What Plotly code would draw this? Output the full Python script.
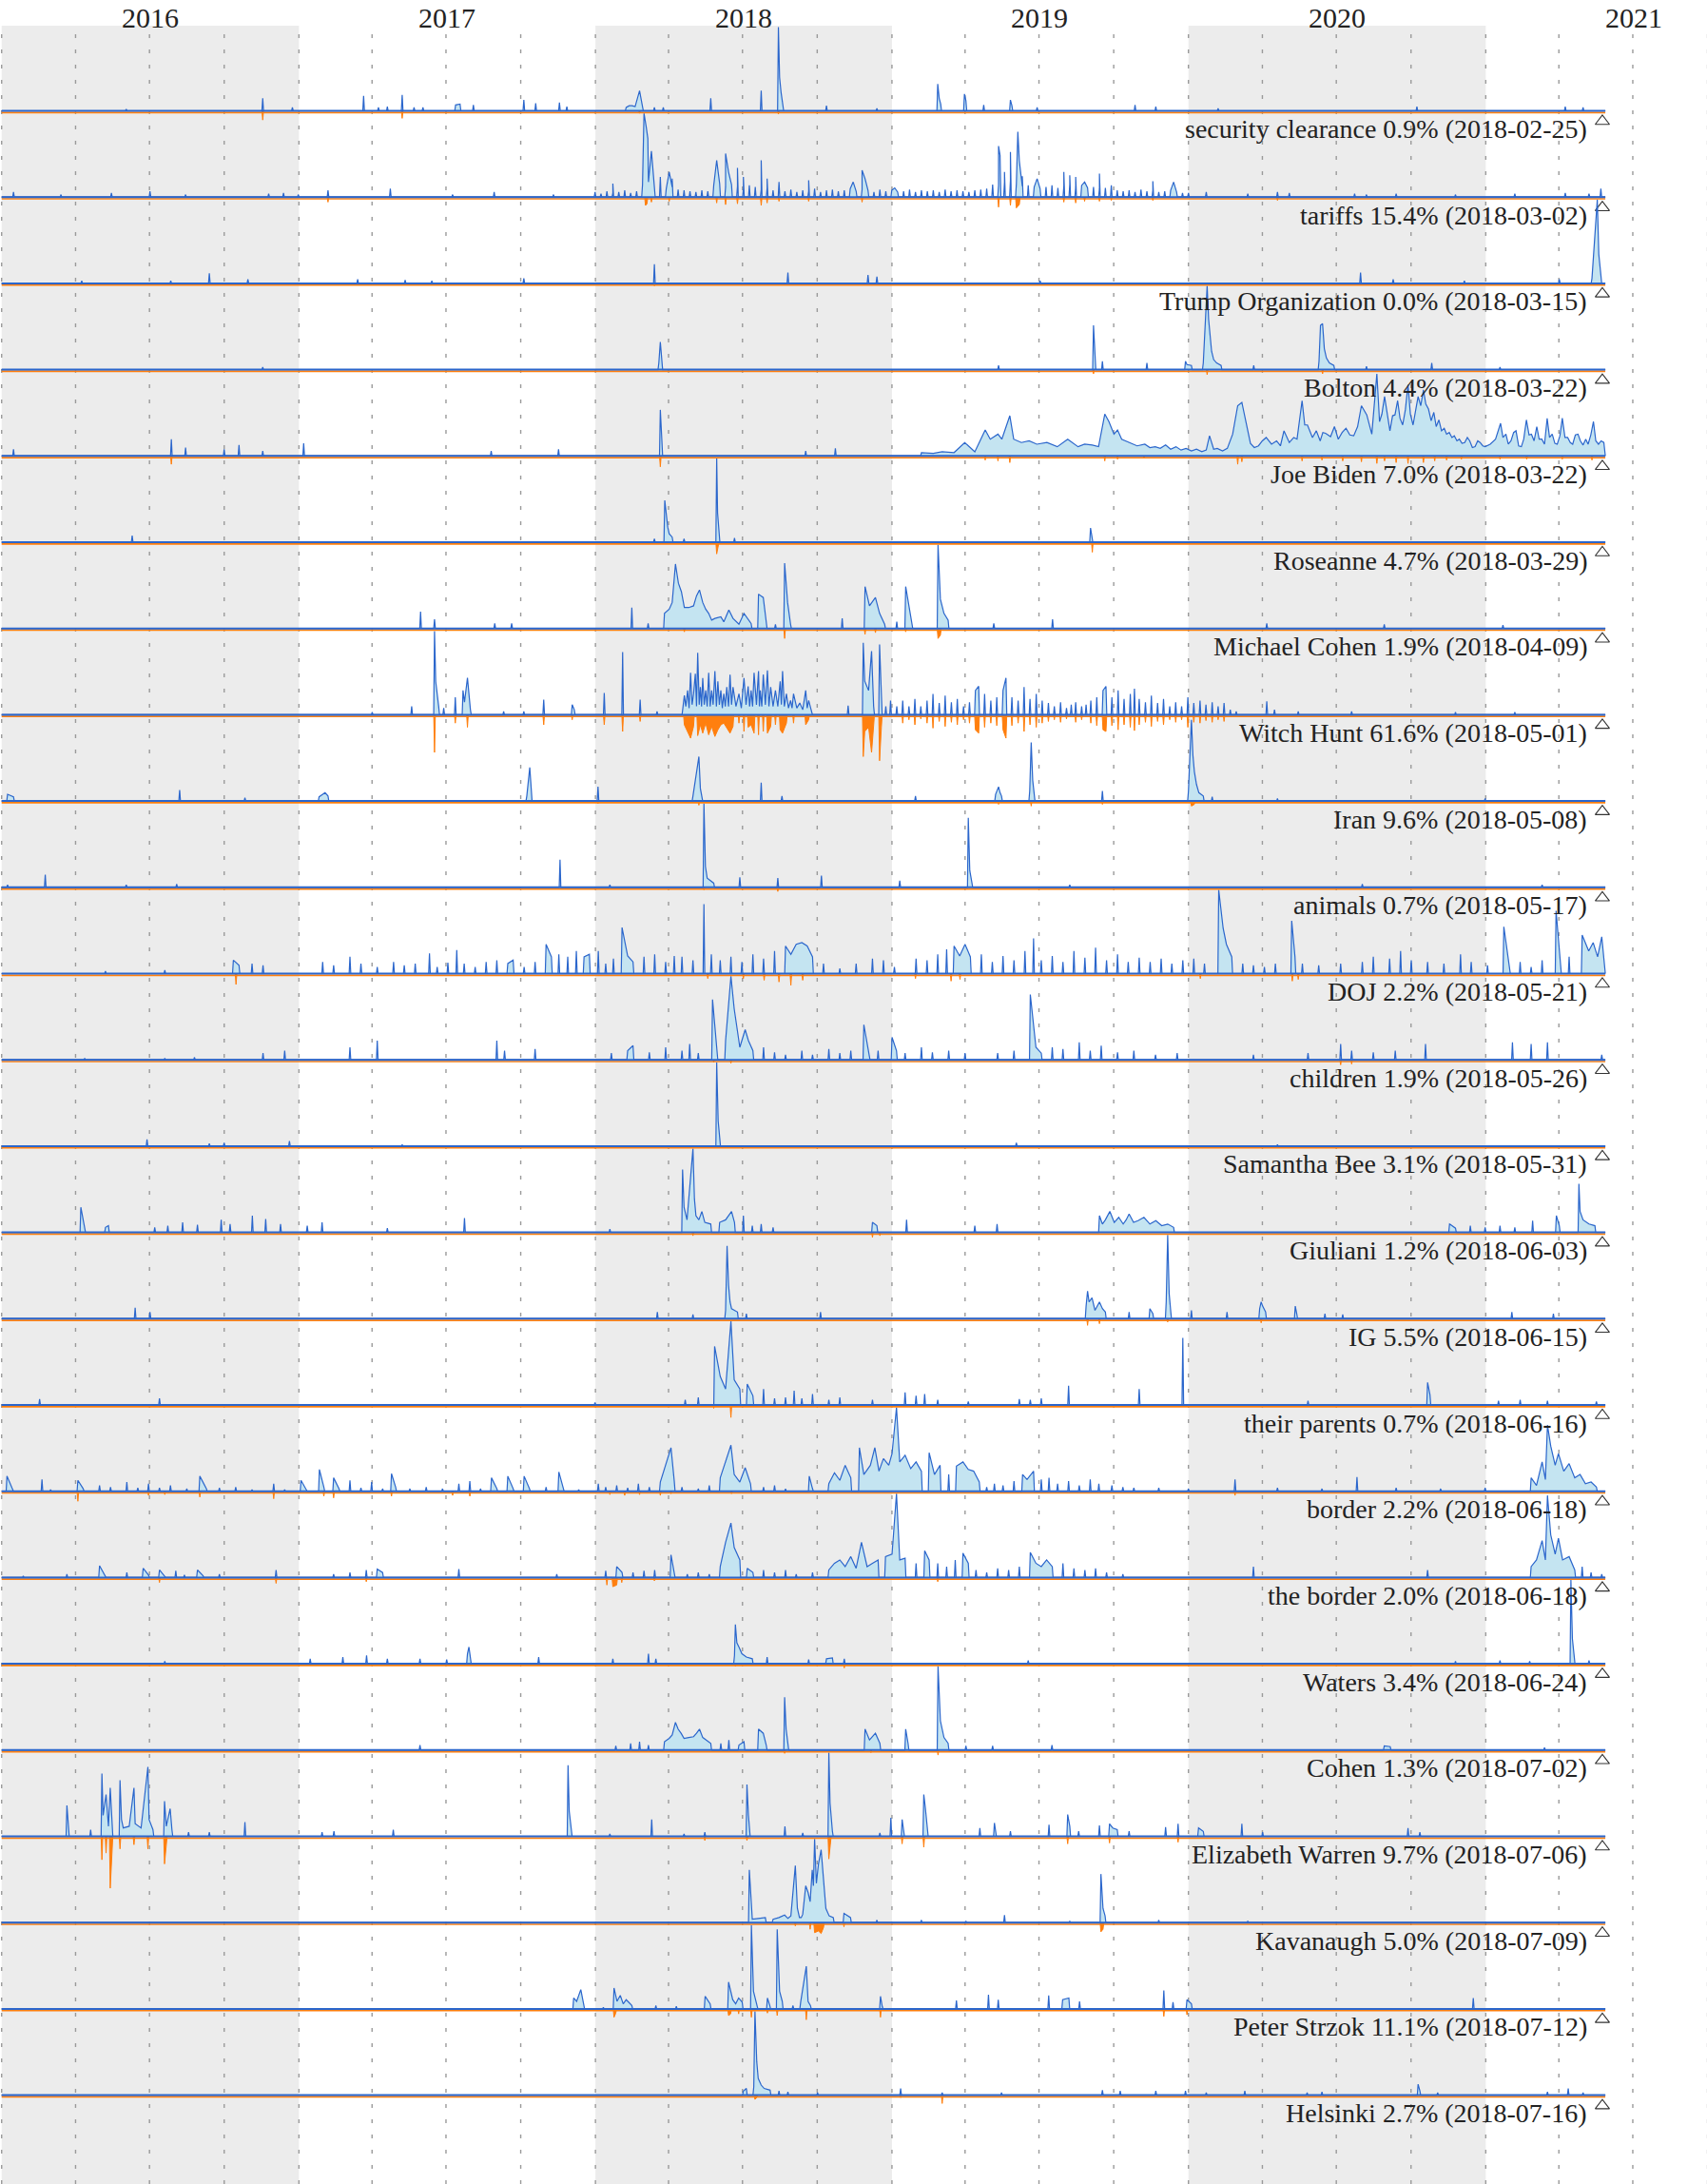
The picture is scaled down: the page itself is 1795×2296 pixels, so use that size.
import pandas as pd
import plotly.graph_objects as go

# ---------------- data (x = fractional year, value = share of row peak, 0-100) ----------------
terms = ["security clearance", "tariffs", "Trump Organization", "Bolton", "Joe Biden", "Roseanne",
         "Michael Cohen", "Witch Hunt", "Iran", "animals", "DOJ", "children", "Samantha Bee",
         "Giuliani", "IG", "their parents", "border", "the border", "Waters", "Cohen",
         "Elizabeth Warren", "Kavanaugh", "Peter Strzok", "Helsinki"]
shares = [0.9, 15.4, 0.0, 4.4, 7.0, 4.7, 1.9, 61.6, 9.6, 0.7, 2.2, 1.9, 3.1, 1.2, 5.5, 0.7, 2.2,
          2.0, 3.4, 1.3, 9.7, 5.0, 11.1, 2.7]
first_dates = ["2018-02-25", "2018-03-02", "2018-03-15", "2018-03-22", "2018-03-22", "2018-03-29",
               "2018-04-09", "2018-05-01", "2018-05-08", "2018-05-17", "2018-05-21", "2018-05-26",
               "2018-05-31", "2018-06-03", "2018-06-15", "2018-06-16", "2018-06-18", "2018-06-18",
               "2018-06-24", "2018-07-02", "2018-07-06", "2018-07-09", "2018-07-12", "2018-07-16"]
year_labels = [2016, 2017, 2018, 2019, 2020, 2021]

security_clearance_blue = [(2016.42,2),(2016.88,15),(2016.98,4),(2017.22,18),(2017.27,4),(2017.30,5),(2017.35,19),(2017.39,4),(2017.42,4),(2017.53,7),(2017.545,8),(2017.59,7),(2017.76,13),(2017.80,9),(2017.88,10),(2017.905,5),(2018.105,4),(2018.115,6),(2018.125,6),(2018.135,5),(2018.15,24),(2018.155,12),(2018.16,5),(2018.20,4),(2018.23,4),(2018.39,15),(2018.56,24),(2018.618,100),(2018.622,40),(2018.627,22),(2018.633,8),(2018.78,6),(2018.95,3),(2019.155,32),(2019.16,15),(2019.165,8),(2019.245,20),(2019.25,12),(2019.31,7),(2019.40,13),(2019.405,6),(2019.49,4),(2019.82,7),(2019.89,5),(2020.10,3),(2020.77,5),(2021.27,5),(2021.33,4)]
security_clearance_orange = [(2016.88,11),(2017.35,9),(2018.15,3),(2018.618,4)]

tariffs_blue = [(2016.04,6),(2016.20,3),(2016.37,5),(2016.50,7),(2016.62,3),(2016.90,4),(2016.95,5),(2017.00,3),(2017.10,8),(2017.31,10),(2017.52,3),(2017.66,6),(2017.86,3),
                (2018.06,16),(2018.165,100),(2018.172,85),(2018.178,70),(2018.185,40),(2018.19,55),(2018.22,24),(2018.25,30),(2018.26,22),(2018.41,44),(2018.415,30),(2018.44,52),(2018.45,30),(2018.48,35),(2018.50,24),(2018.56,44),(2018.58,22),(2018.62,18),(2018.72,20),(2018.87,18),(2018.90,32),(2018.91,22),(2019.01,11),(2019.36,61),(2019.365,50),(2019.38,30),(2019.40,54),(2019.425,78),(2019.43,43),(2019.44,25),(2019.49,22),(2019.58,30),(2019.60,26),(2019.62,24),(2019.65,18),(2019.70,28),(2019.74,14),(2019.88,19),(2019.95,18),
                (2020.06,6),(2020.20,4),(2020.30,6),(2020.34,5),(2020.56,4),(2020.60,3),(2020.70,4),(2020.90,3),(2021.10,4),(2021.27,5),(2021.35,4),(2021.39,10)]
tariffs_floor = (2018.0, 0.02, [6,4,7,5,6,8,5,7, 15,18,12,14,10,12,9,8, 7,6,8,7, 14,16,12,15,13,10,14,12,9,11,8,10,
                                7,9,6,8,7,10,6,8,9,7,8,10,7,9,8,6,9,7, 8,6,7,9,6,8,7,8,6,9,7,8,7,6,8,9,10,
                                15,14,18,20,16,13,14,12, 10,12,14,11,13,15,12,14,11,12,10,11,9,8, 7,8,6,9,7,8,6,7,8,6,5,5])
tariffs_orange = [(2017.10,6),(2018.17,10),(2018.175,8),(2018.19,6),(2018.25,5),(2018.41,7),(2018.44,9),(2018.48,8),(2018.56,10),(2018.58,7),(2018.62,5),(2018.72,5),(2018.90,6),(2019.36,12),(2019.40,10),(2019.42,13),(2019.43,9),(2019.58,6),(2019.62,7),(2019.65,5),(2019.70,5),(2019.74,4),(2019.88,4),(2020.30,4)]

trump_org_blue = [(2016.27,3),(2016.57,3),(2016.70,12),(2016.83,5),(2017.20,5),(2017.36,4),(2017.45,3),(2017.76,6),(2018.20,23),(2018.65,13),(2018.92,10),(2018.95,8),(2019.50,3),(2020.58,13),(2020.69,5),(2020.93,3),(2021.25,5),(2021.36,6),(2021.378,100),(2021.383,35),(2021.39,10)]
trump_org_orange = [(2018.20,3)]

bolton_blue = [(2016.88,3),(2018.215,8),(2018.22,33),(2018.225,10),(2019.36,5),(2019.68,53),(2019.685,15),(2019.71,10),(2019.86,8),(2019.99,10),(2019.995,6),(2020.01,5),(2020.05,8),(2020.063,100),(2020.068,60),(2020.073,35),(2020.078,22),(2020.085,12),(2020.095,8),(2020.11,5),(2020.22,5),(2020.44,10),(2020.445,53),(2020.452,55),(2020.458,25),(2020.465,14),(2020.475,8),(2020.49,5),(2020.60,4),(2020.82,8),(2021.05,3)]
bolton_orange = [(2019.68,5),(2020.063,6),(2020.452,5)]

joe_biden_blue = [(2016.04,8),(2016.572,20),(2016.62,10),(2016.75,8),(2016.80,13),(2016.88,6),(2017.018,15),(2017.65,6),(2017.877,8),(2018.22,55),(2018.225,20),(2018.71,6),(2018.81,9),(2019.10,4),(2019.14,3),(2019.17,5),(2019.21,4),
                  (2019.246,16),(2019.28,5),(2019.315,31),(2019.332,20),(2019.358,26),(2019.371,20),(2019.398,48),(2019.411,20),(2019.437,16),(2019.463,18),(2019.489,14),(2019.523,16),(2019.558,11),(2019.593,20),(2019.628,11),(2019.650,14),(2019.676,13),(2019.697,11),(2019.718,50),(2019.732,41),(2019.749,26),(2019.761,31),(2019.775,20),(2019.801,16),(2019.827,12),(2019.853,14),(2019.870,10),(2019.888,11),(2019.905,9),(2019.923,13),(2019.940,8),(2019.958,11),(2019.975,7),(2019.992,9),
                  (2020.010,6),(2020.027,8),(2020.045,5),(2020.060,7),(2020.071,24),(2020.085,8),(2020.097,9),(2020.115,6),(2020.131,9),(2020.149,26),(2020.166,60),(2020.180,64),(2020.192,45),(2020.209,15),(2020.222,10),(2020.236,12),(2020.249,18),(2020.262,22),(2020.280,14),(2020.297,18),(2020.310,12),(2020.322,30),(2020.340,16),(2020.355,22),(2020.366,20),(2020.383,66),(2020.392,37),(2020.401,37),(2020.418,22),(2020.431,30),(2020.444,18),(2020.453,28),(2020.462,27),(2020.479,23),(2020.492,35),(2020.505,20),(2020.518,28),(2020.531,33),(2020.544,25),(2020.557,24),(2020.570,35),(2020.583,60),(2020.601,49),(2020.618,26),(2020.635,98),(2020.644,41),(2020.652,50),(2020.661,71),(2020.679,30),(2020.688,48),(2020.696,49),(2020.705,66),(2020.713,45),(2020.722,37),(2020.731,55),(2020.740,85),(2020.748,50),(2020.757,37),(2020.766,55),(2020.774,71),(2020.783,60),(2020.792,79),(2020.800,62),(2020.809,56),(2020.818,42),(2020.827,52),(2020.835,35),(2020.844,43),(2020.853,30),(2020.862,33),(2020.870,26),(2020.879,28),(2020.888,22),(2020.896,24),(2020.905,18),(2020.913,20),(2020.922,15),(2020.931,16),(2020.940,22),(2020.948,18),(2020.957,10),(2020.966,11),(2020.975,18),(2020.983,16),(2020.992,12),
                  (2021.000,11),(2021.017,14),(2021.035,20),(2021.052,39),(2021.060,22),(2021.070,26),(2021.078,14),(2021.087,18),(2021.096,28),(2021.104,30),(2021.113,12),(2021.122,11),(2021.130,20),(2021.139,43),(2021.148,25),(2021.156,26),(2021.165,18),(2021.174,35),(2021.182,20),(2021.191,20),(2021.200,14),(2021.209,45),(2021.217,22),(2021.226,26),(2021.235,15),(2021.243,14),(2021.252,24),(2021.260,45),(2021.269,22),(2021.278,22),(2021.287,16),(2021.295,14),(2021.304,25),(2021.313,26),(2021.321,18),(2021.330,13),(2021.339,20),(2021.347,14),(2021.356,25),(2021.365,41),(2021.373,18),(2021.382,14),(2021.391,18),(2021.400,16)]
joe_biden_orange = [(2016.572,10),(2018.22,13),(2019.315,5),(2019.358,6),(2019.398,8),(2019.718,6),(2019.761,4),(2019.85,3),(2020.166,10),(2020.18,7),(2020.383,6),(2020.45,5),(2020.52,6),(2020.583,7),(2020.635,9),(2020.661,6),(2020.70,8),(2020.740,9),(2020.792,8),(2020.83,6),(2020.87,5),(2020.92,4),(2021.05,4),(2021.14,4),(2021.26,4),(2021.36,5)]

roseanne_blue = [(2016.44,8),(2018.20,4),(2018.235,50),(2018.24,30),(2018.245,18),(2018.25,10),(2018.26,6),(2018.30,4),(2018.41,100),(2018.413,35),(2018.418,10),(2018.47,5),(2019.67,17),(2019.675,6)]
roseanne_orange = [(2018.41,14),(2018.415,6),(2019.676,12)]

michael_cohen_blue = [(2017.412,20),(2017.459,11),(2017.662,6),(2017.719,6),(2018.124,25),(2018.179,6),(2018.234,18),(2018.250,23),(2018.260,31),(2018.271,77),(2018.281,54),(2018.291,44),(2018.301,25),(2018.316,25),(2018.332,27),(2018.342,39),(2018.352,46),(2018.363,31),(2018.373,23),(2018.383,18),(2018.393,10),(2018.404,12),(2018.424,14),(2018.434,8),(2018.451,22),(2018.465,12),(2018.485,5),(2018.502,18),(2018.526,6),(2018.551,41),(2018.567,37),(2018.577,8),(2018.608,5),(2018.639,78),(2018.649,31),(2018.659,5),(2018.833,12),(2018.910,50),(2018.925,27),(2018.945,37),(2018.959,18),(2018.976,5),(2019.017,8),(2019.047,50),(2019.068,8),(2019.156,100),(2019.164,35),(2019.176,18),(2019.190,10),(2019.344,6),(2019.542,11),(2020.264,6),(2020.66,5),(2021.06,4)]
michael_cohen_orange = [(2018.301,4),(2018.639,12),(2018.91,7),(2018.945,5),(2019.047,4),(2019.156,12),(2019.164,8)]

witch_hunt_blue = [(2017.249,3),(2017.382,10),(2017.459,100),(2017.463,40),(2017.473,10),(2017.490,8),(2017.529,21),(2017.555,29),(2017.560,15),(2017.570,44),(2017.580,6),(2017.692,4),(2017.760,4),(2017.827,18),(2017.923,12),(2017.930,6),
                   (2018.031,26),(2018.093,75),(2018.152,18),(2018.209,4),
                   (2018.296,8),(2018.301,23),(2018.306,10),(2018.312,29),(2018.317,8),(2018.322,50),(2018.327,12),(2018.332,25),(2018.338,49),(2018.342,10),(2018.346,74),(2018.351,12),(2018.355,33),(2018.359,10),(2018.363,44),(2018.368,12),(2018.373,29),(2018.378,10),(2018.383,50),(2018.388,10),(2018.393,29),(2018.398,12),(2018.404,52),(2018.409,10),(2018.414,40),(2018.419,12),(2018.424,29),(2018.429,8),(2018.434,25),(2018.439,10),(2018.444,33),(2018.450,10),(2018.455,48),(2018.460,12),(2018.465,33),(2018.475,10),(2018.485,25),(2018.493,8),(2018.502,44),(2018.509,12),(2018.516,34),(2018.521,10),(2018.526,29),(2018.531,10),(2018.536,50),(2018.544,12),(2018.551,52),(2018.554,10),(2018.557,29),(2018.562,10),(2018.567,48),(2018.574,12),(2018.581,53),(2018.586,10),(2018.592,33),(2018.600,10),(2018.608,29),(2018.616,10),(2018.624,40),(2018.628,12),(2018.632,52),(2018.638,10),(2018.645,25),(2018.652,8),(2018.659,17),(2018.664,8),(2018.669,25),(2018.680,8),(2018.690,14),(2018.700,6),(2018.710,29),(2018.715,8),(2018.720,17),(2018.730,5),
                   (2018.853,11),(2018.904,86),(2018.909,40),(2018.922,29),(2018.932,76),(2018.939,10),(2018.959,84),(2018.965,25),(2018.980,10),(2018.996,17),
                   (2019.017,10),(2019.037,17),(2019.058,10),(2019.078,19),(2019.098,10),(2019.119,17),(2019.139,25),(2019.160,14),(2019.180,23),(2019.201,15),(2019.221,19),(2019.242,10),(2019.262,15),(2019.282,29),(2019.293,34),(2019.313,25),(2019.334,17),(2019.354,21),(2019.375,29),(2019.385,44),(2019.405,21),(2019.426,17),(2019.446,33),(2019.466,19),(2019.487,25),(2019.507,17),(2019.528,14),(2019.548,10),(2019.569,15),(2019.589,8),(2019.605,12),(2019.620,15),(2019.640,10),(2019.655,12),(2019.671,17),(2019.691,21),(2019.712,29),(2019.722,34),(2019.742,21),(2019.763,29),(2019.783,19),(2019.804,25),(2019.818,31),(2019.834,19),(2019.855,15),(2019.875,23),(2019.896,14),(2019.916,19),(2019.937,10),(2019.957,15),(2019.977,10),(2019.998,21),(2020.018,14),(2020.039,17),(2020.059,12),(2020.080,15),(2020.100,10),(2020.120,14),(2020.141,6),(2020.161,4),
                   (2020.264,16),(2020.290,6),(2020.370,4),(2020.550,4),(2020.900,3),(2021.100,3)]
witch_hunt_orange = [(2017.459,45),(2017.529,10),(2017.570,15),(2017.827,12),(2017.923,6),(2018.031,12),(2018.093,20),(2018.152,8),
                     (2018.301,12),(2018.312,20),(2018.322,28),(2018.332,14),(2018.346,25),(2018.355,12),(2018.363,22),(2018.373,10),(2018.383,24),(2018.393,14),(2018.404,26),(2018.414,18),(2018.424,12),(2018.434,10),(2018.444,16),(2018.455,22),(2018.465,14),(2018.485,10),(2018.502,20),(2018.516,15),(2018.526,12),(2018.536,22),(2018.551,24),(2018.567,20),(2018.581,22),(2018.592,14),(2018.608,12),(2018.624,18),(2018.632,22),(2018.645,10),(2018.669,10),(2018.710,12),(2018.720,6),
                     (2018.904,50),(2018.909,20),(2018.922,15),(2018.932,45),(2018.939,8),(2018.959,55),(2018.965,15),
                     (2019.037,10),(2019.058,6),(2019.078,12),(2019.098,5),(2019.119,10),(2019.139,16),(2019.160,8),(2019.180,14),(2019.201,9),(2019.221,12),(2019.242,6),(2019.262,10),(2019.282,18),(2019.293,22),(2019.313,15),(2019.334,10),(2019.354,13),(2019.375,18),(2019.385,28),(2019.405,13),(2019.426,10),(2019.446,20),(2019.466,12),(2019.487,15),(2019.507,10),(2019.528,8),(2019.548,6),(2019.569,9),(2019.589,5),(2019.620,9),(2019.640,6),(2019.671,10),(2019.691,13),(2019.712,18),(2019.722,20),(2019.742,13),(2019.763,18),(2019.783,12),(2019.804,15),(2019.818,19),(2019.834,12),(2019.855,9),(2019.875,14),(2019.896,8),(2019.916,12),(2019.937,6),(2019.957,9),(2019.977,6),(2019.998,15),(2020.018,9),(2020.039,10),(2020.059,7),(2020.080,9),(2020.100,6),(2020.120,8)]

iran_blue = [(2016.02,8),(2016.04,5),(2016.60,13),(2016.82,4),(2017.07,5),(2017.09,10),(2017.10,6),(2017.77,6),(2017.78,40),(2017.785,10),(2018.01,17),(2018.33,6),(2018.35,53),(2018.355,15),(2018.36,6),(2018.56,22),(2018.63,6),(2019.08,6),(2019.35,8),(2019.36,17),(2019.365,10),(2019.37,6),(2019.465,12),(2019.47,70),(2019.475,25),(2019.48,10),(2019.71,12),(2020.00,12),(2020.01,97),(2020.015,55),(2020.02,35),(2020.027,20),(2020.035,10),(2020.05,6),(2020.08,5),(2020.30,3),(2021.00,3)]
iran_orange = [(2018.01,3),(2018.35,5),(2019.36,4),(2019.47,6),(2019.71,4),(2020.01,6),(2020.02,4)]

animals_blue = [(2016.02,3),(2016.147,15),(2016.42,3),(2016.59,4),(2017.882,33),(2018.05,3),(2018.367,100),(2018.372,25),(2018.378,11),(2018.40,5),(2018.488,12),(2018.616,11),(2018.763,14),(2019.027,8),(2019.258,83),(2019.263,20),(2019.27,6),(2019.60,3),(2020.586,4),(2021.192,3)]
animals_orange = [(2018.367,3),(2018.616,5)]

doj_blue = [(2016.35,3),(2016.55,4),(2016.781,16),(2016.800,10),(2016.844,12),(2016.881,10),(2017.082,14),(2017.119,10),(2017.174,20),(2017.211,12),(2017.266,8),(2017.321,14),(2017.357,10),(2017.394,12),(2017.442,24),(2017.468,8),(2017.504,13),(2017.534,28),(2017.559,12),(2017.596,8),(2017.633,14),(2017.669,16),(2017.706,12),(2017.724,16),(2017.761,8),(2017.798,14),(2017.835,35),(2017.853,20),(2017.878,23),(2017.908,20),(2017.937,27),(2017.963,20),(2017.981,23),(2018.011,27),(2018.036,12),(2018.062,18),(2018.091,55),(2018.110,21),(2018.128,14),(2018.165,20),(2018.201,23),(2018.238,14),(2018.267,21),(2018.293,20),(2018.330,16),(2018.367,83),(2018.392,23),(2018.422,16),(2018.458,20),(2018.495,14),(2018.532,23),(2018.568,18),(2018.605,27),(2018.642,33),(2018.660,23),(2018.678,35),(2018.697,37),(2018.715,33),(2018.733,20),(2018.770,12),(2018.825,6),(2018.880,12),(2018.935,18),(2018.972,16),(2019.009,8),(2019.082,18),(2019.119,16),(2019.155,23),(2019.185,29),(2019.210,33),(2019.229,21),(2019.247,35),(2019.265,20),(2019.302,23),(2019.339,14),(2019.375,21),(2019.412,16),(2019.449,27),(2019.478,42),(2019.504,16),(2019.541,21),(2019.577,14),(2019.614,27),(2019.651,19),(2019.687,31),(2019.724,16),(2019.761,23),(2019.797,14),(2019.834,19),(2019.871,14),(2019.908,18),(2019.944,12),(2019.981,16),(2020.018,18),(2020.054,12),(2020.102,100),(2020.117,54),(2020.128,35),(2020.146,20),(2020.183,12),(2020.219,10),(2020.256,8),(2020.293,12),(2020.348,63),(2020.359,20),(2020.384,12),(2020.439,10),(2020.513,12),(2020.586,14),(2020.623,20),(2020.678,18),(2020.715,27),(2020.751,16),(2020.806,14),(2020.861,12),(2020.917,23),(2020.953,14),(2021.008,10),(2021.063,56),(2021.082,12),(2021.118,14),(2021.155,8),(2021.192,16),(2021.239,75),(2021.254,16),(2021.283,20),(2021.327,46),(2021.349,27),(2021.364,37),(2021.379,20),(2021.393,44),(2021.400,12)]
doj_orange = [(2016.79,13),(2018.38,6),(2018.50,6),(2018.57,8),(2018.62,10),(2018.66,14),(2018.70,8),(2019.08,6),(2019.20,9),(2019.23,7),(2020.04,6),(2020.35,9),(2020.37,7)]

children_blue = [(2016.28,2),(2016.55,2),(2016.65,3),(2016.881,8),(2016.954,11),(2017.174,15),(2017.266,23),(2017.669,23),(2017.695,11),(2017.798,13),(2018.055,8),(2018.110,11),(2018.128,17),(2018.183,9),(2018.238,15),(2018.293,11),(2018.319,19),(2018.348,8),(2018.396,72),(2018.411,8),(2018.440,23),(2018.458,100),(2018.469,61),(2018.488,15),(2018.506,36),(2018.517,23),(2018.532,11),(2018.568,15),(2018.605,9),(2018.642,6),(2018.697,11),(2018.733,6),(2018.788,13),(2018.825,8),(2018.862,11),(2018.906,42),(2018.924,8),(2018.954,11),(2019.001,27),(2019.016,11),(2019.045,8),(2019.100,15),(2019.137,9),(2019.192,11),(2019.247,8),(2019.357,8),(2019.412,11),(2019.467,78),(2019.486,15),(2019.504,8),(2019.541,15),(2019.577,13),(2019.632,21),(2019.669,11),(2019.706,17),(2019.761,9),(2019.816,11),(2019.889,6),(2019.962,8),(2020.219,6),(2020.403,8),(2020.513,19),(2020.550,11),(2020.623,9),(2020.697,11),(2020.799,19),(2021.092,21),(2021.155,19),(2021.210,21),(2021.393,6)]
children_orange = [(2018.40,3),(2018.458,4),(2020.513,6),(2020.55,5)]

samantha_bee_blue = [(2016.49,8),(2016.70,3),(2016.75,4),(2016.97,6),(2017.35,2),(2018.41,100),(2018.415,30),(2018.42,8),(2019.42,4),(2020.30,2)]
samantha_bee_orange = []

giuliani_blue = [(2016.267,30),(2016.28,8),(2016.35,6),(2016.36,8),(2016.516,6),(2016.56,8),(2016.61,12),(2016.66,9),(2016.74,15),(2016.77,10),(2016.845,20),(2016.89,16),(2016.94,10),(2017.03,8),(2017.08,12),(2017.30,5),(2017.56,17),(2018.05,4),(2018.295,75),(2018.30,30),(2018.31,15),(2018.33,100),(2018.335,40),(2018.34,20),(2018.35,15),(2018.36,25),(2018.37,12),(2018.39,10),(2018.42,12),(2018.44,15),(2018.46,25),(2018.47,12),(2018.50,20),(2018.53,8),(2018.56,10),(2018.60,6),(2018.935,12),(2018.95,8),(2019.05,15),(2019.28,8),(2019.355,10),(2019.70,20),(2019.71,10),(2019.72,15),(2019.735,25),(2019.75,12),(2019.765,18),(2019.78,10),(2019.79,15),(2019.80,22),(2019.815,12),(2019.83,14),(2019.85,18),(2019.87,10),(2019.89,14),(2019.91,8),(2019.93,10),(2019.95,6),(2020.88,10),(2020.90,5),(2020.95,8),(2021.00,6),(2021.05,8),(2021.10,6),(2021.16,14),(2021.24,20),(2021.25,8),(2021.316,58),(2021.32,25),(2021.33,15),(2021.35,10),(2021.37,8)]
giuliani_orange = [(2018.33,4),(2018.935,6),(2018.96,4)]

ig_blue = [(2016.45,13),(2016.50,8),(2018.21,8),(2018.33,5),(2018.44,10),(2018.445,87),(2018.45,40),(2018.455,20),(2018.46,12),(2018.48,8),(2018.51,6),(2018.76,8),(2019.655,15),(2019.66,33),(2019.665,20),(2019.675,25),(2019.685,10),(2019.70,20),(2019.71,12),(2019.72,8),(2019.80,8),(2019.87,12),(2019.88,6),(2019.925,20),(2019.93,100),(2019.935,30),(2019.94,10),(2020.01,10),(2020.13,8),(2020.24,12),(2020.245,20),(2020.25,15),(2020.26,8),(2020.36,15),(2020.365,6),(2020.46,6),(2020.52,5),(2021.09,8),(2021.23,6)]
ig_orange = [(2019.66,8),(2019.70,6),(2019.93,4),(2020.245,5)]

their_parents_blue = [(2016.128,7),(2016.532,8),(2018.000,3),(2018.304,6),(2018.348,9),(2018.403,70),(2018.422,34),(2018.440,19),(2018.458,100),(2018.469,30),(2018.488,19),(2018.513,25),(2018.532,11),(2018.568,19),(2018.605,8),(2018.642,9),(2018.671,17),(2018.697,8),(2018.733,13),(2018.788,6),(2018.825,9),(2018.935,6),(2019.045,15),(2019.082,11),(2019.111,13),(2019.155,6),(2019.258,4),(2019.430,7),(2019.467,6),(2019.504,8),(2019.596,23),(2019.834,19),(2019.981,80),(2020.403,5),(2020.806,27),(2020.814,12),(2021.045,5),(2021.118,6),(2021.210,5),(2021.375,4)]
their_parents_orange = [(2018.40,4),(2018.458,15)]

border_blue = [(2016.018,18),(2016.037,2),(2016.136,14),(2016.165,2),(2016.257,13),(2016.275,3),(2016.330,7),(2016.367,5),(2016.422,11),(2016.459,4),(2016.495,9),(2016.532,4),(2016.569,7),(2016.624,3),(2016.668,18),(2016.690,3),(2016.734,4),(2016.789,5),(2016.844,2),(2016.917,9),(2016.954,2),(2017.009,13),(2017.027,3),(2017.071,26),(2017.086,5),(2017.119,16),(2017.137,3),(2017.174,13),(2017.211,4),(2017.247,11),(2017.284,3),(2017.314,21),(2017.328,5),(2017.376,3),(2017.431,5),(2017.486,3),(2017.541,9),(2017.578,12),(2017.614,3),(2017.651,16),(2017.669,3),(2017.706,18),(2017.724,3),(2017.761,18),(2017.779,3),(2017.835,5),(2017.878,23),(2017.893,3),(2017.945,2),
               (2018.011,9),(2018.036,5),(2018.073,7),(2018.110,4),(2018.146,9),(2018.183,5),(2018.220,11),(2018.238,31),(2018.256,52),(2018.267,12),(2018.293,5),(2018.348,3),(2018.385,7),(2018.422,16),(2018.440,35),(2018.458,55),(2018.469,20),(2018.488,11),(2018.506,28),(2018.524,9),(2018.568,5),(2018.605,7),(2018.642,3),(2018.722,18),(2018.733,3),(2018.788,9),(2018.807,22),(2018.825,13),(2018.843,31),(2018.862,16),(2018.891,52),(2018.906,20),(2018.928,31),(2018.943,52),(2018.957,24),(2018.972,39),(2018.990,31),(2019.001,45),(2019.016,100),(2019.027,35),(2019.045,43),(2019.064,27),(2019.082,35),(2019.100,24),(2019.126,46),(2019.144,20),(2019.163,31),(2019.192,20),(2019.218,30),(2019.240,35),(2019.258,26),(2019.276,24),(2019.295,11),(2019.320,5),(2019.346,9),(2019.375,7),(2019.412,12),(2019.441,20),(2019.456,14),(2019.478,24),(2019.504,14),(2019.530,16),(2019.559,9),(2019.596,12),(2019.632,7),(2019.669,14),(2019.698,9),(2019.742,7),(2019.779,5),(2019.816,4),(2019.90,4),(2020.00,3),(2020.157,14),(2020.30,4),(2020.45,3),(2020.568,17),(2020.70,4),(2020.85,3),(2021.00,4),
               (2021.155,16),(2021.173,7),(2021.192,35),(2021.203,14),(2021.210,79),(2021.221,54),(2021.236,31),(2021.247,45),(2021.265,24),(2021.283,33),(2021.302,16),(2021.320,20),(2021.338,9),(2021.357,11),(2021.375,5)]
border_orange = [(2016.257,12),(2016.495,5),(2016.55,4),(2016.668,7),(2016.917,9),(2017.086,6),(2017.119,8),(2017.314,6),(2017.52,5),(2017.578,6),(2018.05,4),(2018.10,5),(2018.15,4),(2018.22,5),(2018.256,3),(2018.46,3),(2020.157,5)]

the_border_blue = [(2016.073,2),(2016.220,4),(2016.330,14),(2016.349,2),(2016.422,6),(2016.477,11),(2016.495,3),(2016.532,9),(2016.550,2),(2016.587,8),(2016.616,3),(2016.660,9),(2016.679,2),(2016.734,4),(2016.925,9),(2017.119,4),(2017.174,6),(2017.229,9),(2017.266,10),(2017.284,6),(2017.541,10),(2017.871,4),(2018.036,8),(2018.073,13),(2018.091,6),(2018.128,6),(2018.165,8),(2018.201,9),(2018.256,27),(2018.267,6),(2018.311,4),(2018.348,6),(2018.385,4),(2018.422,13),(2018.440,42),(2018.458,65),(2018.469,36),(2018.488,21),(2018.513,11),(2018.532,6),(2018.568,9),(2018.605,6),(2018.642,9),(2018.678,4),(2018.733,6),(2018.788,9),(2018.807,17),(2018.825,21),(2018.843,13),(2018.862,25),(2018.880,11),(2018.898,42),(2018.917,13),(2018.935,17),(2018.954,21),(2018.979,25),(2019.001,28),(2019.016,100),(2019.027,21),(2019.045,23),(2019.082,17),(2019.111,32),(2019.126,21),(2019.155,17),(2019.185,13),(2019.214,21),(2019.240,29),(2019.258,17),(2019.284,9),(2019.320,6),(2019.357,11),(2019.394,9),(2019.430,13),(2019.467,30),(2019.486,17),(2019.504,13),(2019.522,21),(2019.541,13),(2019.577,17),(2019.614,11),(2019.651,9),(2019.687,11),(2019.724,6),(2019.779,4),(2020.219,13),(2020.806,9),
                   (2021.155,13),(2021.173,21),(2021.192,44),(2021.203,21),(2021.210,98),(2021.221,51),(2021.236,28),(2021.247,47),(2021.261,21),(2021.283,25),(2021.302,9),(2021.327,13),(2021.357,6),(2021.393,4)]
the_border_orange = [(2016.532,6),(2016.925,7),(2017.229,5),(2018.04,9),(2018.06,11),(2018.073,9),(2018.09,6),(2018.20,4),(2019.155,5)]

waters_blue = [(2016.55,3),(2017.04,6),(2017.15,8),(2017.23,10),(2017.30,6),(2017.41,6),(2017.50,5),(2017.57,12),(2017.575,20),(2017.58,8),(2017.81,8),(2018.06,6),(2018.18,12),(2018.205,6),(2018.47,10),(2018.473,47),(2018.478,25),(2018.485,20),(2018.495,12),(2018.51,8),(2018.53,6),(2018.58,8),(2018.72,5),(2018.78,6),(2018.80,7),(2018.84,6),(2019.46,4),(2020.90,3),(2021.05,4),(2021.15,3),(2021.289,100),(2021.294,30),(2021.30,10),(2021.35,4)]
waters_orange = [(2018.473,3),(2018.84,5)]

cohen_blue = [(2017.41,6),(2018.07,5),(2018.12,8),(2018.15,10),(2018.18,6),(2018.234,10),(2018.25,14),(2018.26,18),(2018.271,33),(2018.28,25),(2018.29,20),(2018.30,14),(2018.316,15),(2018.332,16),(2018.342,20),(2018.352,25),(2018.363,15),(2018.373,12),(2018.39,8),(2018.424,8),(2018.451,12),(2018.485,6),(2018.502,10),(2018.551,25),(2018.567,20),(2018.577,6),(2018.639,63),(2018.644,25),(2018.65,8),(2018.910,25),(2018.925,12),(2018.945,20),(2018.96,8),(2019.047,25),(2019.055,8),(2019.156,100),(2019.164,35),(2019.176,15),(2019.19,8),(2019.25,5),(2019.34,5),(2019.54,6),(2020.66,5),(2020.68,4),(2021.20,3)]
cohen_orange = [(2018.639,4),(2018.93,3),(2019.156,6)]

elizabeth_warren_blue = [(2016.22,37),(2016.225,10),(2016.30,8),(2016.338,75),(2016.342,25),(2016.352,50),(2016.36,12),(2016.366,58),(2016.372,15),(2016.399,67),(2016.404,20),(2016.41,10),(2016.43,12),(2016.446,58),(2016.45,15),(2016.47,10),(2016.493,83),(2016.497,20),(2016.51,8),(2016.549,42),(2016.555,12),(2016.568,33),(2016.574,8),(2016.63,5),(2016.70,5),(2016.82,17),(2017.08,5),(2017.12,6),(2017.32,8),(2017.909,85),(2017.913,30),(2017.92,8),(2018.05,3),(2018.191,20),(2018.30,3),(2018.37,5),(2018.512,62),(2018.517,25),(2018.52,8),(2018.64,12),(2018.70,4),(2018.788,100),(2018.792,40),(2018.797,15),(2018.80,6),(2018.96,4),(2018.997,22),(2019.035,20),(2019.04,8),(2019.108,50),(2019.113,35),(2019.12,10),(2019.297,10),(2019.346,16),(2019.35,8),(2019.40,6),(2019.53,14),(2019.593,26),(2019.60,12),(2019.63,6),(2019.70,13),(2019.734,15),(2019.745,10),(2019.76,8),(2019.80,6),(2019.923,11),(2019.965,15),(2020.034,10),(2020.05,6),(2020.18,15),(2020.25,5),(2020.74,10),(2020.78,5)]
elizabeth_warren_orange = [(2016.338,28),(2016.352,20),(2016.366,62),(2016.372,20),(2016.399,15),(2016.446,10),(2016.493,15),(2016.549,33),(2016.555,10),(2018.37,5),(2018.512,5),(2018.788,27),(2018.793,10),(2019.035,9),(2019.108,13),(2019.593,9),(2019.734,8),(2019.965,7)]

kavanaugh_blue = [(2018.520,63),(2018.53,4),(2018.55,5),(2018.574,6),(2018.60,4),(2018.62,6),(2018.639,9),(2018.65,5),(2018.66,8),(2018.675,68),(2018.682,17),(2018.689,6),(2018.695,6),(2018.70,10),(2018.710,44),(2018.718,36),(2018.725,25),(2018.732,63),(2018.736,44),(2018.740,100),(2018.746,47),(2018.753,70),(2018.762,87),(2018.769,51),(2018.778,17),(2018.789,8),(2018.803,6),(2018.839,11),(2018.861,6),(2018.95,3),(2019.10,3),(2019.25,2),(2019.380,9),(2019.60,2),(2019.705,58),(2019.712,17),(2019.719,8),(2019.90,3),(2020.20,2)]
kavanaugh_orange = [(2018.675,4),(2018.725,8),(2018.740,12),(2018.753,10),(2018.762,13),(2018.770,6),(2018.839,5),(2019.705,11),(2019.712,8)]

peter_strzok_blue = [(2017.928,13),(2017.938,9),(2017.952,23),(2017.962,6),(2018.028,2),(2018.064,25),(2018.074,9),(2018.085,16),(2018.095,6),(2018.105,11),(2018.124,4),(2018.205,4),(2018.274,3),(2018.371,15),(2018.388,6),(2018.450,32),(2018.457,21),(2018.464,11),(2018.474,6),(2018.484,13),(2018.496,8),(2018.527,100),(2018.534,21),(2018.546,4),(2018.581,13),(2018.589,4),(2018.614,95),(2018.622,21),(2018.631,9),(2018.667,4),(2018.693,8),(2018.712,51),(2018.718,9),(2018.726,4),(2018.962,15),(2018.968,3),(2019.218,10),(2019.326,17),(2019.359,11),(2019.529,16),(2019.576,11),(2019.597,13),(2019.633,9),(2019.917,22),(2019.948,8),(2019.995,11),(2020.01,6),(2020.96,13)]
peter_strzok_orange = [(2018.064,10),(2018.07,5),(2018.450,8),(2018.457,6),(2018.484,6),(2018.527,10),(2018.581,5),(2018.614,8),(2018.712,13),(2018.962,10),(2019.917,9),(2019.995,7)]

helsinki_blue = [(2018.50,5),(2018.51,8),(2018.535,10),(2018.539,100),(2018.545,40),(2018.55,20),(2018.56,12),(2018.57,8),(2018.59,6),(2018.62,5),(2018.65,4),(2018.75,3),(2019.03,8),(2019.17,3),(2019.37,3),(2019.71,6),(2019.77,5),(2019.89,5),(2019.99,5),(2020.06,3),(2020.19,5),(2020.40,3),(2020.45,4),(2020.774,13),(2020.78,5),(2020.84,3),(2021.21,4),(2021.28,8),(2021.33,3)]
helsinki_orange = [(2018.539,5),(2018.545,3),(2019.03,3),(2019.17,10)]

rows_blue = [security_clearance_blue, tariffs_blue, trump_org_blue, bolton_blue, joe_biden_blue, roseanne_blue,
             michael_cohen_blue, witch_hunt_blue, iran_blue, animals_blue, doj_blue, children_blue,
             samantha_bee_blue, giuliani_blue, ig_blue, their_parents_blue, border_blue, the_border_blue,
             waters_blue, cohen_blue, elizabeth_warren_blue, kavanaugh_blue, peter_strzok_blue, helsinki_blue]
rows_orange = [security_clearance_orange, tariffs_orange, trump_org_orange, bolton_orange, joe_biden_orange,
               roseanne_orange, michael_cohen_orange, witch_hunt_orange, iran_orange, animals_orange, doj_orange,
               children_orange, samantha_bee_orange, giuliani_orange, ig_orange, their_parents_orange,
               border_orange, the_border_orange, waters_orange, cohen_orange, elizabeth_warren_orange,
               kavanaugh_orange, peter_strzok_orange, helsinki_orange]
rows_floor = {1: tariffs_floor}
# max number of days between two read points that are joined directly (otherwise the line drops to 0)
row_gap_days = {1: 5, 4: 15, 7: 5}
ORANGE_GAP_DAYS = 5

# ---------------- helpers ----------------
START = pd.Timestamp("2016-01-01")
END_YEAR = 2021.405
DAY = 1 / 365.25


def to_date(y):
    return START + pd.to_timedelta((y - 2016.0) * 365.25, unit="D")


def build(points, floor=None, gap_days=9):
    pts = list(points)
    if floor is not None:
        s, step, vals = floor
        pts += [(s + k * step, v) for k, v in enumerate(vals)]
    pts.sort()
    gap = gap_days * DAY
    xs, ys = [2016.0], [0]
    prev = None
    for x, v in pts:
        if prev is None or x - prev > gap:
            if prev is not None:
                xs.append(prev + DAY); ys.append(0)
            xs.append(x - DAY); ys.append(0)
        xs.append(x); ys.append(v)
        prev = x
    if prev is not None:
        xs.append(min(prev + DAY, END_YEAR)); ys.append(0)
    if xs[-1] < END_YEAR:
        xs.append(END_YEAR); ys.append(0)
    return [to_date(x) for x in xs], ys


# ---------------- figure ----------------
W, H = 1795, 2296
ROW0, ROWSTEP = 116.5, 90.7
PXU = 0.88           # pixels per value unit
UP, DOWN = 96, 62    # pixel extent of each row axis above / below its baseline

BLUE = "#2b66cc"
LIGHT = "#c4e4f1"
ORANGE = "#ff7f0e"
SERIF = "Liberation Serif"

fig = go.Figure()
layout_axes = {}
annotations = []
shapes = []

for yr in (2016, 2018, 2020):
    shapes.append(dict(type="rect", xref="x", yref="paper", x0=f"{yr}-01-01", x1=f"{yr + 1}-01-01",
                       y0=0, y1=1 - 27 / H, fillcolor="#ececec", line=dict(width=0), layer="below"))
for d in pd.date_range("2016-01-01", "2021-10-01", freq="QS"):
    shapes.append(dict(type="line", xref="x", yref="paper", x0=d, x1=d, y0=1 - 36 / H, y1=0,
                       line=dict(color="#9a9a9a", width=1.4, dash="4px,12px"), layer="below"))
for yr in year_labels:
    annotations.append(dict(text=str(yr), x=f"{yr}-07-02", xref="x", y=1, yref="paper", yshift=-1,
                            showarrow=False, yanchor="top", xanchor="center", borderpad=0,
                            font=dict(family=SERIF, size=30, color="#222")))

for i in range(len(terms)):
    b = ROW0 + ROWSTEP * i
    ax = "y" if i == 0 else f"y{i + 1}"
    lk = "yaxis" if i == 0 else f"yaxis{i + 1}"
    layout_axes[lk] = dict(domain=[1 - (b + DOWN) / H, 1 - (b - UP) / H], range=[-DOWN / PXU, UP / PXU],
                           visible=False, fixedrange=True, anchor="x")
    ox, oy = build(rows_orange[i], None, ORANGE_GAP_DAYS)
    fig.add_trace(go.Scatter(x=ox, y=[-v for v in oy], mode="lines", fill="tozeroy", fillcolor=ORANGE,
                             line=dict(color=ORANGE, width=1), yaxis=ax, xaxis="x", hoverinfo="skip"))
    bx, by = build(rows_blue[i], rows_floor.get(i), row_gap_days.get(i, 9))
    fig.add_trace(go.Scatter(x=bx, y=by, mode="lines", fill="tozeroy", fillcolor=LIGHT,
                             line=dict(color=BLUE, width=1.2), yaxis=ax, xaxis="x", hoverinfo="skip"))
    fig.add_trace(go.Scatter(x=[to_date(END_YEAR - 0.01)], y=[-12.5], mode="markers",
                             marker=dict(symbol="triangle-up-open", size=13, color="#333",
                                         line=dict(width=1.1)),
                             yaxis=ax, xaxis="x", hoverinfo="skip"))
    shapes.append(dict(type="line", xref="x", yref=ax, x0=START, x1=to_date(END_YEAR),
                       ysizemode="pixel", yanchor=0, y0=-1.8, y1=-1.8,
                       line=dict(color=ORANGE, width=1.7), layer="above"))
    shapes.append(dict(type="line", xref="x", yref=ax, x0=START, x1=to_date(END_YEAR), y0=0, y1=0,
                       line=dict(color=BLUE, width=2.0), layer="above"))
    annotations.append(dict(text=f"{terms[i]} {shares[i]:.1f}% ({first_dates[i]})",
                            x=to_date(END_YEAR), xref="x", xanchor="right", xshift=-17,
                            y=0, yref=ax, yshift=-19, yanchor="middle", showarrow=False,
                            font=dict(family=SERIF, size=28, color="#222")))

fig.update_layout(
    width=W, height=H, autosize=False,
    margin=dict(l=0, r=0, t=0, b=0),
    paper_bgcolor="white", plot_bgcolor="rgba(0,0,0,0)",
    showlegend=False,
    xaxis=dict(type="date", range=[to_date(2015.9945), to_date(2021.7477)], visible=False, fixedrange=True),
    shapes=shapes, annotations=annotations,
    **layout_axes,
)

fig.write_html("out.html", config={"displayModeBar": False, "staticPlot": True},
               post_script="document.body.style.margin='0px';document.body.style.padding='0px';")
